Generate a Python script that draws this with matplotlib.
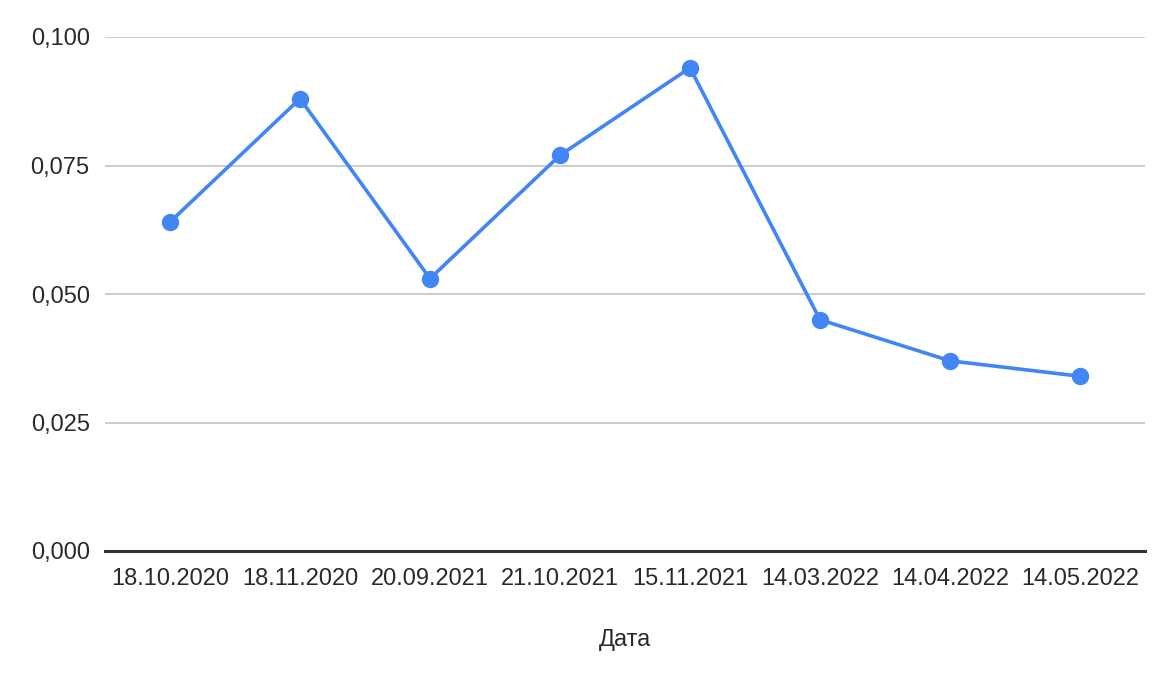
import matplotlib
matplotlib.use("Agg")
import matplotlib.pyplot as plt
from matplotlib.ticker import FuncFormatter

dates = ["18.10.2020", "18.11.2020", "20.09.2021", "21.10.2021",
         "15.11.2021", "14.03.2022", "14.04.2022", "14.05.2022"]
values = [0.064, 0.088, 0.053, 0.077, 0.094, 0.045, 0.037, 0.034]
y_ticks = [0.0, 0.025, 0.050, 0.075, 0.100]
x_title = "Дата"

plt.rcParams["font.family"] = ["Liberation Sans", "DejaVu Sans"]

W, H = 1153, 673
fig = plt.figure(figsize=(W / 100, H / 100), dpi=100)
ax = fig.add_axes([105 / W, 1 - 551 / H, (1145 - 105) / W, (551 - 37) / H])

x = list(range(len(dates)))
ax.plot(x, values, color="#4285F4", linewidth=2.6, marker="o",
        markersize=11.5, zorder=3, solid_capstyle="round")

ax.set_xlim(-0.5, len(dates) - 0.5)
ax.set_ylim(0, 0.100)
ax.set_yticks(y_ticks)
ax.yaxis.set_major_formatter(FuncFormatter(lambda v, p: f"{v:.3f}".replace(".", ",")))
ax.set_xticks(x)
ax.set_xticklabels(dates)

ax.grid(axis="y", color="#cccccc", linewidth=1.4)
ax.set_axisbelow(True)
for side in ("top", "right", "left"):
    ax.spines[side].set_visible(False)
ax.spines["bottom"].set_color("#333333")
ax.spines["bottom"].set_linewidth(2.2)
ax.spines["bottom"].set_zorder(2)

ax.tick_params(axis="both", length=0, labelsize=17, colors="#2a2a2a")
ax.tick_params(axis="y", pad=11)
ax.tick_params(axis="x", pad=12)

ax.set_xlabel(x_title, fontsize=17, color="#2a2a2a", labelpad=28)

fig.savefig("out.png", dpi=100, facecolor="white")
